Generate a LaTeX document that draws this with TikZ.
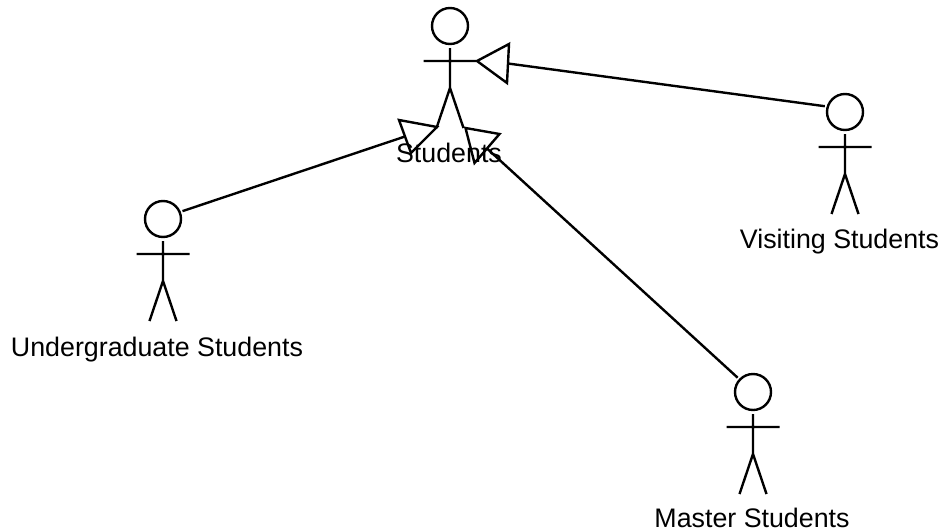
\documentclass[tikz,border=0pt]{standalone}
\usepackage{fontspec}
\setmainfont{Liberation Sans}
\usetikzlibrary{calc}
\begin{document}
\begin{tikzpicture}[x=1pt,y=-1pt,line width=2.4pt,
  head/.style={circle,draw,minimum size=36pt,inner sep=0pt,outer sep=3pt},
  label/.style={inner sep=0pt,anchor=base,font=\fontsize{26.8}{30}\selectfont},
  triangle/.style={draw,line join=miter},
  actor/.pic={
    \draw (0,22) -- (0,62) (-26.5,35) -- (26.5,35)
          (-13.5,102) -- (0,62) -- (13.5,102);
  }]
\useasboundingbox (0,0) rectangle (941,530);
% actors
\node[head] (students) at (450,26) {};
\pic at (450,26) {actor};
\node[head] (under) at (163,219) {};
\pic at (163,219) {actor};
\node[head] (visit) at (845,112) {};
\pic at (845,112) {actor};
\node[head] (master) at (753,392) {};
\pic at (753,392) {actor};
% labels
\node[label] (lstudents) at (449,162) {Students};
\node[label] (lunder) at (157,356) {Undergraduate Students};
\node[label] (lvisit) at (839.5,248) {Visiting Students};
\node[label] (lmaster) at (752,527) {Master Students};
% generalisation triangles
\coordinate (tu) at (437,127);
\coordinate (tua) at (399,120);
\coordinate (tub) at (411,153);
\coordinate (tm) at (465.5,128);
\coordinate (tma) at (499.5,134);
\coordinate (tmb) at (474.5,163);
\coordinate (tv) at (477,61);
\coordinate (tva) at (509,44);
\coordinate (tvb) at (507,83);
\draw[triangle] (tu) -- (tua) -- (tub) -- cycle;
\draw[triangle] (tm) -- (tma) -- (tmb) -- cycle;
\draw[triangle] (tv) -- (tva) -- (tvb) -- cycle;
% connectors
\draw (under.22) -- ($(tua)!0.5!(tub)$);
\draw (master.137) -- ($(tma)!0.5!(tmb)$);
\draw (visit.164) -- ($(tva)!0.5!(tvb)$);
\end{tikzpicture}
\end{document}
